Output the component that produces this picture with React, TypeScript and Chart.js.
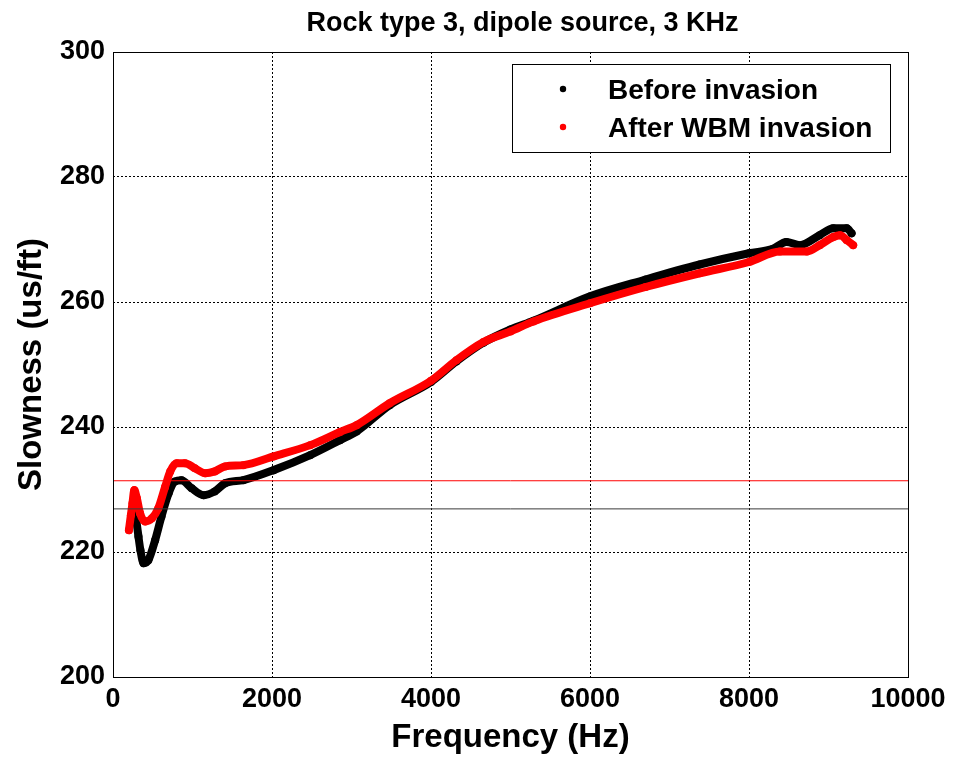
import React, { useEffect, useRef } from "react";
import { Chart, registerables } from "chart.js";

Chart.register(...registerables);

const TITLE = "Rock type 3, dipole source, 3 KHz";
const X_TITLE = "Frequency (Hz)";
const Y_TITLE = "Slowness (us/ft)";
const LEGEND_LABELS = ["Before invasion", "After WBM invasion"];
const SERIES_COLORS = ["#000000", "#ff0000"];

const X_MIN = 0;
const X_MAX = 10000;
const X_STEP = 2000;
const Y_MIN = 200;
const Y_MAX = 300;
const Y_STEP = 20;

// Before invasion (black)
const beforeFreq = [240, 265, 290, 320, 345, 385, 445, 530, 610, 700, 780, 860, 990, 1140, 1280, 1410, 1640, 2020, 2480, 2855, 3065, 3480, 4000, 4320, 4660, 5000, 5290, 6000, 6700, 7380, 8000, 8300, 8470, 8640, 8890, 9060, 9230, 9290];
const beforeSlow = [226.6, 227.8, 225.4, 222.5, 220.3, 218.2, 218.7, 221.9, 225.7, 229.4, 231.3, 231.5, 230.2, 229.1, 229.7, 231.0, 231.5, 233.1, 235.5, 237.9, 239.3, 243.5, 247.2, 250.5, 253.5, 255.6, 257.0, 260.9, 263.6, 266.0, 267.8, 268.5, 269.6, 269.1, 270.7, 271.8, 271.8, 271.0];

// After WBM invasion (red)
const afterFreq = [200, 225, 245, 268, 300, 340, 405, 490, 570, 655, 720, 800, 905, 1030, 1160, 1280, 1410, 1640, 2020, 2480, 2855, 3065, 3480, 4000, 4320, 4660, 5000, 5290, 6000, 6700, 7380, 8000, 8390, 8730, 8890, 9060, 9145, 9230, 9310];
const afterSlow = [223.5, 225.9, 227.8, 229.9, 228.6, 226.2, 224.9, 225.4, 227.0, 230.4, 232.9, 234.2, 234.2, 233.4, 232.6, 232.9, 233.7, 233.9, 235.3, 237.1, 239.2, 240.3, 243.8, 247.4, 250.7, 253.6, 255.3, 256.9, 259.8, 262.4, 264.6, 266.4, 268.1, 268.1, 269.1, 270.4, 270.7, 269.9, 269.1];

// Horizontal reference levels
const beforeLevel = 226.9;
const afterLevel = 231.4;

const FONT = '"Liberation Sans", Arial, sans-serif';

const toPoints = (xs: number[], ys: number[]) => xs.map((x, i) => ({ x, y: ys[i] }));

const decorPlugin = {
  id: "decor",
  afterDraw(chart: any) {
    const { ctx, chartArea: ca } = chart;
    ctx.save();
    // frame
    ctx.strokeStyle = "#000";
    ctx.lineWidth = 1;
    ctx.setLineDash([]);
    ctx.strokeRect(Math.round(ca.left) + 0.5, Math.round(ca.top) + 0.5, Math.round(ca.right - ca.left), Math.round(ca.bottom - ca.top));

    // title
    ctx.fillStyle = "#000";
    ctx.font = `bold 27px ${FONT}`;
    ctx.textAlign = "center";
    ctx.textBaseline = "alphabetic";
    ctx.fillText(TITLE, (ca.left + ca.right) / 2 + 12, ca.top - 21);

    // x title
    ctx.font = `bold 33px ${FONT}`;
    ctx.fillText(X_TITLE, (ca.left + ca.right) / 2, ca.bottom + 70);

    // y title
    ctx.save();
    ctx.translate(ca.left - 72, (ca.top + ca.bottom) / 2);
    ctx.rotate(-Math.PI / 2);
    ctx.fillText(Y_TITLE, 0, 0);
    ctx.restore();

    // legend
    const w = 378;
    const h = 88;
    const lx = Math.round(ca.right - 18 - w);
    const ly = Math.round(ca.top + 12);
    ctx.fillStyle = "#fff";
    ctx.fillRect(lx, ly, w, h);
    ctx.strokeStyle = "#000";
    ctx.strokeRect(lx + 0.5, ly + 0.5, w, h);
    ctx.font = `bold 28px ${FONT}`;
    ctx.textAlign = "left";
    const rows = [ly + 25, ly + 63];
    LEGEND_LABELS.forEach((lab, i) => {
      ctx.fillStyle = SERIES_COLORS[i];
      ctx.beginPath();
      ctx.arc(lx + 51, rows[i], 3.2, 0, Math.PI * 2);
      ctx.fill();
      ctx.fillStyle = "#000";
      ctx.fillText(lab, lx + 96, rows[i] + 10);
    });
    ctx.restore();
  },
};

export default function App() {
  const ref = useRef<HTMLCanvasElement | null>(null);

  useEffect(() => {
    document.body.style.margin = "0";
    const canvas = ref.current;
    if (!canvas) return;
    const chart = new Chart(canvas, {
      type: "scatter",
      data: {
        datasets: [
          {
            label: "before level",
            data: [{ x: X_MIN, y: beforeLevel }, { x: X_MAX, y: beforeLevel }],
            showLine: true,
            borderColor: "#3a3a3a",
            borderWidth: 1,
            pointRadius: 0,
            order: 0,
          },
          {
            label: "after level",
            data: [{ x: X_MIN, y: afterLevel }, { x: X_MAX, y: afterLevel }],
            showLine: true,
            borderColor: "#ff0000",
            borderWidth: 1,
            pointRadius: 0,
            order: 0,
          },
          {
            label: LEGEND_LABELS[1],
            data: toPoints(afterFreq, afterSlow),
            showLine: true,
            borderColor: SERIES_COLORS[1],
            backgroundColor: SERIES_COLORS[1],
            borderWidth: 8,
            borderCapStyle: "round",
            borderJoinStyle: "round",
            cubicInterpolationMode: "monotone",
            pointRadius: 4,
            pointBorderWidth: 0,
            order: 1,
          },
          {
            label: LEGEND_LABELS[0],
            data: toPoints(beforeFreq, beforeSlow),
            showLine: true,
            borderColor: SERIES_COLORS[0],
            backgroundColor: SERIES_COLORS[0],
            borderWidth: 8,
            borderCapStyle: "round",
            borderJoinStyle: "round",
            cubicInterpolationMode: "monotone",
            pointRadius: 4,
            pointBorderWidth: 0,
            order: 2,
          },
        ],
      },
      options: {
        animation: false,
        responsive: false,
        maintainAspectRatio: false,
        layout: { padding: { left: 0, top: 52, right: 45, bottom: 0 } },
        plugins: {
          legend: { display: false },
          tooltip: { enabled: false },
          title: { display: false },
        },
        scales: {
          x: {
            type: "linear",
            min: X_MIN,
            max: X_MAX,
            ticks: {
              stepSize: X_STEP,
              color: "#000",
              font: { family: FONT, size: 27, weight: "bold" },
              padding: 6,
              maxRotation: 0,
              callback: (v: any) => String(v),
            },
            grid: { color: "#000", lineWidth: 1, drawTicks: false },
            border: { display: false, dash: [2, 2] },
            afterFit: (s: any) => {
              s.height = 80;
            },
          },
          y: {
            type: "linear",
            min: Y_MIN,
            max: Y_MAX,
            ticks: {
              stepSize: Y_STEP,
              color: "#000",
              font: { family: FONT, size: 27, weight: "bold" },
              padding: 8,
              callback: (v: any) => String(v),
            },
            grid: { color: "#000", lineWidth: 1, drawTicks: false },
            border: { display: false, dash: [2, 2] },
            afterFit: (s: any) => {
              s.width = 113;
            },
          },
        },
      },
      plugins: [decorPlugin],
    } as any);
    return () => chart.destroy();
  }, []);

  return <canvas ref={ref} width={953} height={757} style={{ display: "block" }} />;
}
